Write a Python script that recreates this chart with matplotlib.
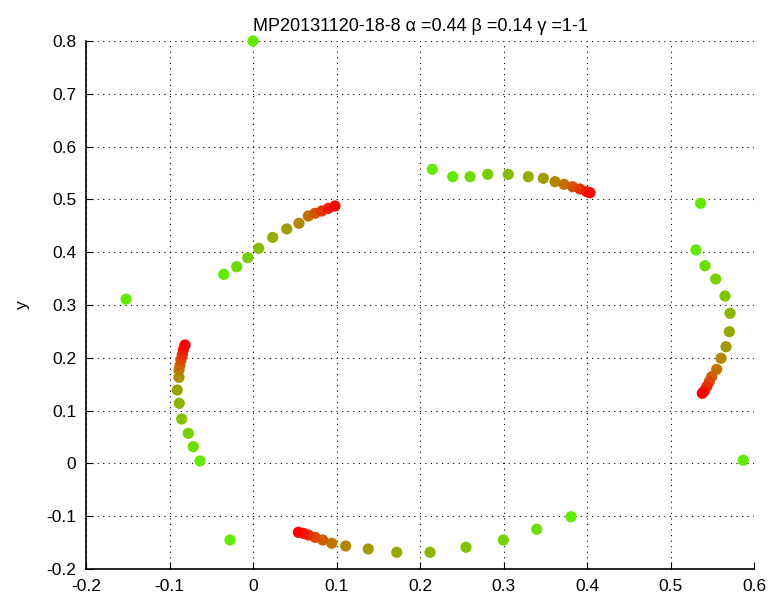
import numpy as np
import matplotlib
matplotlib.use("Agg")
import matplotlib.pyplot as plt
from matplotlib.colors import LinearSegmentedColormap

plt.rcParams['font.family'] = ['Liberation Sans', 'DejaVu Sans']

title = "MP20131120-18-8 \u03b1 =0.44 \u03b2 =0.14 \u03b3 =1-1"

# Arcs (ordered from green start to red end)
arc_a_x = [-0.035, -0.0195, -0.0063, 0.0068, 0.0236, 0.0404, 0.0551, 0.0662, 0.0743, 0.0823, 0.0902, 0.0982]
arc_a_y = [0.358, 0.3725, 0.3896, 0.4074, 0.428, 0.444, 0.4547, 0.4686, 0.4737, 0.478, 0.483, 0.4875]

arc_b_x = [0.2392, 0.2599, 0.2811, 0.3057, 0.3297, 0.3477, 0.3617, 0.3725, 0.3829, 0.3916, 0.3996, 0.4036]
arc_b_y = [0.543, 0.543, 0.5475, 0.5475, 0.543, 0.540, 0.5335, 0.5286, 0.524, 0.5197, 0.5146, 0.5127]

arc_c_x = [0.5305, 0.5413, 0.5541, 0.5653, 0.5713, 0.5704, 0.5665, 0.5605, 0.5553, 0.5493, 0.5465, 0.5434, 0.5405, 0.5381]
arc_c_y = [0.4042, 0.3744, 0.3492, 0.3170, 0.2843, 0.2494, 0.2210, 0.1991, 0.1782, 0.1642, 0.1547, 0.1453, 0.1371, 0.1328]

arc_d_x = [-0.0635, -0.0715, -0.0775, -0.0854, -0.0883, -0.0907, -0.0886, -0.0886, -0.0874, -0.0862, -0.0847, -0.0835, -0.0814]
arc_d_y = [0.0046, 0.0316, 0.0570, 0.0841, 0.1138, 0.139, 0.163, 0.177, 0.186, 0.196, 0.2053, 0.2148, 0.2242]

arc_e_x = [0.3808, 0.3398, 0.2998, 0.2551, 0.212, 0.1721, 0.1381, 0.111, 0.0943, 0.0835, 0.0743, 0.0662, 0.0602, 0.0543]
arc_e_y = [-0.101, -0.1248, -0.1451, -0.1589, -0.1684, -0.1684, -0.1621, -0.1564, -0.1513, -0.145, -0.140, -0.1356, -0.1324, -0.1305]

# Isolated green points
single_x = [0.0, -0.152, -0.0275, 0.587, 0.536, 0.2147]
single_y = [0.8, 0.311, -0.145, 0.006, 0.4926, 0.557]

cmap = LinearSegmentedColormap.from_list(
    "gr", [(0.0, (0.38, 0.92, 0.0)), (0.45, (0.62, 0.62, 0.0)),
           (0.65, (0.78, 0.42, 0.0)), (1.0, (1.0, 0.0, 0.0))])

fig = plt.figure(figsize=(7.78, 6.06), dpi=100)
ax = fig.add_axes([86/778, 1 - 569/606, (754-86)/778, (569-41)/606])

for xs, ys in [(arc_a_x, arc_a_y), (arc_b_x, arc_b_y), (arc_c_x, arc_c_y),
               (arc_d_x, arc_d_y), (arc_e_x, arc_e_y)]:
    t = np.linspace(0, 1, len(xs))
    ax.scatter(xs, ys, c=t, cmap=cmap, vmin=0, vmax=1, s=65, edgecolors='none', zorder=3)

ax.scatter(single_x, single_y, color=cmap(0.0), s=65, edgecolors='none', zorder=3, clip_on=False)

ax.set_xlim(-0.2, 0.6)
ax.set_ylim(-0.2, 0.8)
ax.set_xticks(np.arange(-0.2, 0.61, 0.1))
ax.set_yticks(np.arange(-0.2, 0.81, 0.1))
ax.set_xticklabels(["-0.2", "-0.1", "0", "0.1", "0.2", "0.3", "0.4", "0.5", "0.6"])
ax.set_yticklabels(["-0.2", "-0.1", "0", "0.1", "0.2", "0.3", "0.4", "0.5", "0.6", "0.7", "0.8"])
ax.grid(True, color='black', linestyle=(0, (1, 4)), linewidth=0.8)
ax.set_axisbelow(True)
ax.spines['top'].set_visible(False)
ax.spines['right'].set_visible(False)
ax.spines['left'].set_linewidth(1.2)
ax.spines['bottom'].set_linewidth(1.2)
ax.tick_params(direction='in', length=5, labelsize=12.5, colors='black', pad=7)
ax.set_ylabel("y", fontsize=12.5, labelpad=12)
ax.set_title(title, fontsize=13, pad=7)

fig.savefig("out.png", dpi=100)
